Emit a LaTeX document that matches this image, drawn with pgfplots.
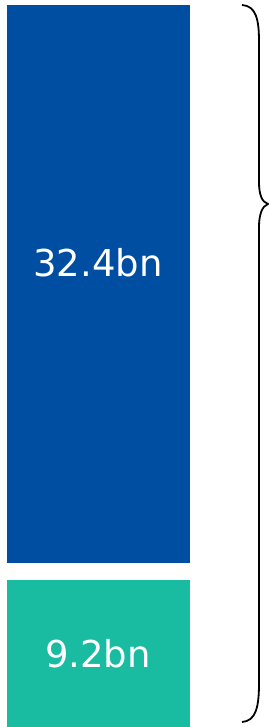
\documentclass[border=0pt]{standalone}
\usepackage{pgfplots}
\pgfplotsset{compat=1.18}
\usepackage{fontspec}
\setmainfont{DejaVu Sans}
\definecolor{cblue}{RGB}{0,78,162}
\definecolor{cteal}{RGB}{25,188,161}
\begin{document}
\begin{tikzpicture}
\begin{axis}[
  width=269bp, height=727bp, scale only axis,
  xmin=0, xmax=269, ymin=0, ymax=727,
  hide axis, clip=false,
  ybar stacked, bar width=183,
]
\addplot[fill=cteal, draw=none] coordinates {(98.5,147)};
\addplot[fill=none, draw=none] coordinates {(98.5,17)};
\addplot[fill=cblue, draw=none] coordinates {(98.5,558)};
\path (axis cs:0,0) coordinate (ll) (axis cs:269,727) coordinate (ur);
\coordinate (t1) at (axis cs:98,464);
\coordinate (t2) at (axis cs:98,73);
\draw[line width=1.8bp, black] (axis cs:242,722) .. controls (axis cs:256,721) and (axis cs:259,708) .. (axis cs:259,685)
  -- (axis cs:259,545) .. controls (axis cs:259,532) and (axis cs:262,525) .. (axis cs:268,523)
  .. controls (axis cs:262,521) and (axis cs:259,512) .. (axis cs:259,500)
  -- (axis cs:259,44) .. controls (axis cs:259,20) and (axis cs:256,6) .. (axis cs:242,5);
\end{axis}
\path[use as bounding box] (ll) rectangle (ur);
\node[white, font=\fontsize{37bp}{41bp}\selectfont, anchor=center] at (t1) {32.4bn};
\node[white, font=\fontsize{37bp}{41bp}\selectfont, anchor=center] at (t2) {9.2bn};
\end{tikzpicture}
\end{document}
